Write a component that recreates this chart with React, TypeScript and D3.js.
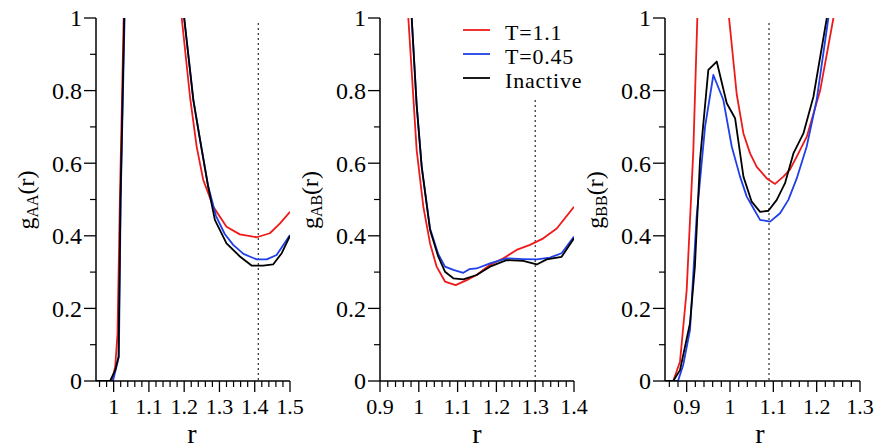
import React from "react";
import * as d3 from "d3";

// ---------- data ----------
const seriesNames = ["T=1.1", "T=0.45", "Inactive"];
const seriesColors = ["#ee1a1a", "#1f3fe8", "#000000"];

// g_AA(r)
const rAA_red = [0.95, 0.9955, 1.0045, 1.011, 1.0177, 1.0285, 1.04, 1.1, 1.18, 1.193, 1.2165, 1.2355, 1.254, 1.2826, 1.32, 1.358, 1.4056, 1.443, 1.4717, 1.5];
const gAA_red = [0, 0, 0.04, 0.13, 0.5, 1.0, 1.6, 2.9, 1.2, 1.0, 0.783, 0.645, 0.554, 0.48, 0.425, 0.404, 0.396, 0.407, 0.434, 0.466];
const rAA_blue = [0.95, 0.998, 1.0148, 1.02, 1.031, 1.04, 1.1, 1.19, 1.2, 1.226, 1.245, 1.268, 1.29, 1.315, 1.339, 1.368, 1.4056, 1.434, 1.462, 1.5];
const gAA_blue = [0, 0, 0.067, 0.5, 1.0, 1.6, 2.9, 1.15, 1.0, 0.774, 0.664, 0.537, 0.455, 0.405, 0.375, 0.35, 0.335, 0.335, 0.347, 0.402];
const rAA_black = [0.95, 0.99, 1.0045, 1.0139, 1.0195, 1.03, 1.04, 1.1, 1.19, 1.2, 1.226, 1.245, 1.268, 1.287, 1.32, 1.358, 1.391, 1.424, 1.452, 1.4765, 1.5];
const gAA_black = [0, 0, 0.03, 0.067, 0.5, 1.0, 1.6, 2.9, 1.15, 1.0, 0.774, 0.664, 0.535, 0.444, 0.379, 0.343, 0.318, 0.318, 0.321, 0.352, 0.4];

// g_AB(r)
const rAB_red = [0.95, 0.973, 0.9945, 1.0117, 1.029, 1.046, 1.0675, 1.095, 1.1235, 1.149, 1.1835, 1.218, 1.252, 1.2866, 1.321, 1.3555, 1.4];
const gAB_red = [1.5, 1.0, 0.636, 0.48, 0.379, 0.315, 0.274, 0.264, 0.278, 0.292, 0.32, 0.338, 0.361, 0.375, 0.393, 0.42, 0.48];
const rAB_blue = [0.96, 0.9817, 0.9945, 1.0075, 1.029, 1.05, 1.0675, 1.089, 1.1147, 1.13, 1.149, 1.1835, 1.226, 1.269, 1.304, 1.338, 1.368, 1.4];
const gAB_blue = [1.4, 1.0, 0.76, 0.59, 0.42, 0.35, 0.315, 0.306, 0.298, 0.308, 0.31, 0.324, 0.338, 0.336, 0.335, 0.34, 0.352, 0.398];
const rAB_black = [0.96, 0.9817, 0.9945, 1.0075, 1.029, 1.05, 1.0675, 1.089, 1.1147, 1.149, 1.1835, 1.226, 1.269, 1.304, 1.3296, 1.368, 1.4];
const gAB_black = [1.4, 1.0, 0.76, 0.59, 0.416, 0.343, 0.301, 0.283, 0.28, 0.292, 0.315, 0.333, 0.331, 0.321, 0.335, 0.342, 0.393];

// g_BB(r)
const rBB_red = [0.85, 0.869, 0.8846, 0.9, 0.9154, 0.9246, 0.935, 0.96, 0.99, 0.9978, 1.0155, 1.031, 1.0463, 1.0617, 1.0849, 1.104, 1.1232, 1.1387, 1.154, 1.1772, 1.208, 1.2387, 1.25];
const gBB_red = [0, 0, 0.053, 0.25, 0.636, 1.0, 1.6, 2.2, 1.2, 1.0, 0.79, 0.682, 0.627, 0.59, 0.558, 0.543, 0.563, 0.583, 0.618, 0.673, 0.8, 1.0, 1.08];
const rBB_blue = [0.85, 0.88, 0.892, 0.9077, 0.923, 0.9424, 0.9616, 0.9847, 1.004, 1.0232, 1.0386, 1.054, 1.0694, 1.0925, 1.1155, 1.1347, 1.154, 1.177, 1.2, 1.227, 1.24];
const gBB_blue = [0, 0, 0.044, 0.14, 0.453, 0.7, 0.843, 0.774, 0.646, 0.563, 0.508, 0.476, 0.444, 0.439, 0.462, 0.499, 0.558, 0.646, 0.774, 1.0, 1.1];
const rBB_black = [0.85, 0.869, 0.8846, 0.9077, 0.919, 0.9308, 0.95, 0.9694, 0.9925, 1.0117, 1.031, 1.05, 1.0694, 1.0886, 1.1079, 1.127, 1.1463, 1.1694, 1.1925, 1.2234, 1.235];
const gBB_black = [0, 0, 0.03, 0.159, 0.315, 0.609, 0.857, 0.88, 0.765, 0.724, 0.563, 0.494, 0.466, 0.469, 0.499, 0.545, 0.627, 0.682, 0.783, 1.0, 1.1];

const yTicks = [0, 0.2, 0.4, 0.6, 0.8, 1];
const yTickLabels = ["0", "0.2", "0.4", "0.6", "0.8", "1"];
const xTicksAA = [1, 1.1, 1.2, 1.3, 1.4, 1.5];
const xTicksAB = [0.9, 1, 1.1, 1.2, 1.3, 1.4];
const xTicksBB = [0.9, 1, 1.1, 1.2, 1.3];
const yLabelSubs = ["AA", "AB", "BB"];
const vLines = [1.41, 1.3, 1.09];

// ---------- layout ----------
const W = 877;
const H = 446;
const yTop = 18;
const yBot = 381;
const FONT = "Liberation Serif";

const panels = [
  { x0: 96, x1: 290, domain: [0.95, 1.5], ticks: xTicksAA, sub: yLabelSubs[0], vline: vLines[0], vTop: 23, ylabX: 34, xlabX: 192,
    series: [[rAA_red, gAA_red], [rAA_blue, gAA_blue], [rAA_black, gAA_black]] },
  { x0: 380, x1: 574, domain: [0.9, 1.4], ticks: xTicksAB, sub: yLabelSubs[1], vline: vLines[1], vTop: 100, ylabX: 318, xlabX: 477,
    series: [[rAB_red, gAB_red], [rAB_blue, gAB_blue], [rAB_black, gAB_black]] },
  { x0: 665, x1: 860, domain: [0.85, 1.3], ticks: xTicksBB, sub: yLabelSubs[2], vline: vLines[2], vTop: 23, ylabX: 603, xlabX: 760,
    series: [[rBB_red, gBB_red], [rBB_blue, gBB_blue], [rBB_black, gBB_black]] },
];

const fmt = (v: number) => (Math.round(v * 10) / 10).toString();

function Panel({ p, idx }: { p: any; idx: number }) {
  const x = d3.scaleLinear().domain(p.domain).range([p.x0, p.x1]);
  const y = d3.scaleLinear().domain([0, 1]).range([yBot, yTop]);
  const line = d3
    .line<[number, number]>()
    .x((d) => x(d[0]))
    .y((d) => y(d[1]));
  const minorX: number[] = [];
  for (let k = Math.ceil(p.domain[0] * 50 - 1e-6); k <= Math.floor(p.domain[1] * 50 + 1e-6); k++) {
    const v = k / 50;
    if (Math.abs(v * 10 - Math.round(v * 10)) > 1e-6) minorX.push(v);
  }
  const minorY = [0.1, 0.3, 0.5, 0.7, 0.9];
  const clipId = `clip${idx}`;
  return (
    <g>
      <defs>
        <clipPath id={clipId}>
          <rect x={p.x0} y={yTop} width={p.x1 - p.x0} height={yBot - yTop} />
        </clipPath>
      </defs>
      <line x1={x(p.vline)} x2={x(p.vline)} y1={p.vTop} y2={yBot} stroke="#000" strokeWidth={1} strokeDasharray="2,3" />
      <g clipPath={`url(#${clipId})`}>
        {p.series.map((s: number[][], i: number) => {
          const pts: [number, number][] = s[0].map((r: number, j: number) => [r, s[1][j]]);
          return <path key={i} d={line(pts) || ""} fill="none" stroke={seriesColors[i]} strokeWidth={1.8} strokeLinejoin="round" />;
        })}
      </g>
      <line x1={p.x0} x2={p.x0} y1={yTop} y2={yBot} stroke="#000" strokeWidth={1.5} />
      <line x1={p.x0} x2={p.x1} y1={yBot} y2={yBot} stroke="#000" strokeWidth={1.5} />
      {yTicks.map((t, i) => (
        <g key={"yt" + i}>
          <line x1={p.x0 - 12} x2={p.x0} y1={y(t)} y2={y(t)} stroke="#000" strokeWidth={1.3} />
          <text x={p.x0 - 14} y={y(t) + 8.3} textAnchor="end" fontFamily={FONT} fontSize={24} fill="#000">
            {yTickLabels[i]}
          </text>
        </g>
      ))}
      {minorY.map((t, i) => (
        <line key={"ym" + i} x1={p.x0 - 6} x2={p.x0} y1={y(t)} y2={y(t)} stroke="#000" strokeWidth={1.2} />
      ))}
      {p.ticks.map((t: number, i: number) => (
        <g key={"xt" + i}>
          <line x1={x(t)} x2={x(t)} y1={yBot} y2={yBot + 11} stroke="#000" strokeWidth={1.3} />
          <text x={x(t)} y={414} textAnchor="middle" fontFamily={FONT} fontSize={22} fill="#000">
            {fmt(t)}
          </text>
        </g>
      ))}
      {minorX.map((t, i) => (
        <line key={"xm" + i} x1={x(t)} x2={x(t)} y1={yBot} y2={yBot + 6} stroke="#000" strokeWidth={1.2} />
      ))}
      <text x={p.xlabX} y={443} textAnchor="middle" fontFamily={FONT} fontSize={28} fill="#000">
        r
      </text>
      <text
        transform={`translate(${p.ylabX},200) rotate(-90)`}
        textAnchor="middle"
        fontFamily={FONT}
        fontSize={24}
        fill="#000"
      >
        g
        <tspan fontSize={16} dy={4}>
          {p.sub}
        </tspan>
        <tspan dy={-4}>(r)</tspan>
      </text>
    </g>
  );
}

export default function App() {
  const legendY = [30, 54, 78];
  return (
    <svg width={W} height={H} style={{ position: "absolute", left: 0, top: 0, background: "#fff" }}>
      <rect x={0} y={0} width={W} height={H} fill="#fff" />
      {panels.map((p, i) => (
        <Panel key={i} p={p} idx={i} />
      ))}
      {seriesNames.map((n, i) => (
        <g key={"lg" + i}>
          <line x1={463} x2={490} y1={legendY[i]} y2={legendY[i]} stroke={seriesColors[i]} strokeWidth={1.8} />
          <text x={505} y={legendY[i] + 9.5} fontFamily={FONT} fontSize={22} letterSpacing={0.8} fill="#000">
            {n}
          </text>
        </g>
      ))}
    </svg>
  );
}
